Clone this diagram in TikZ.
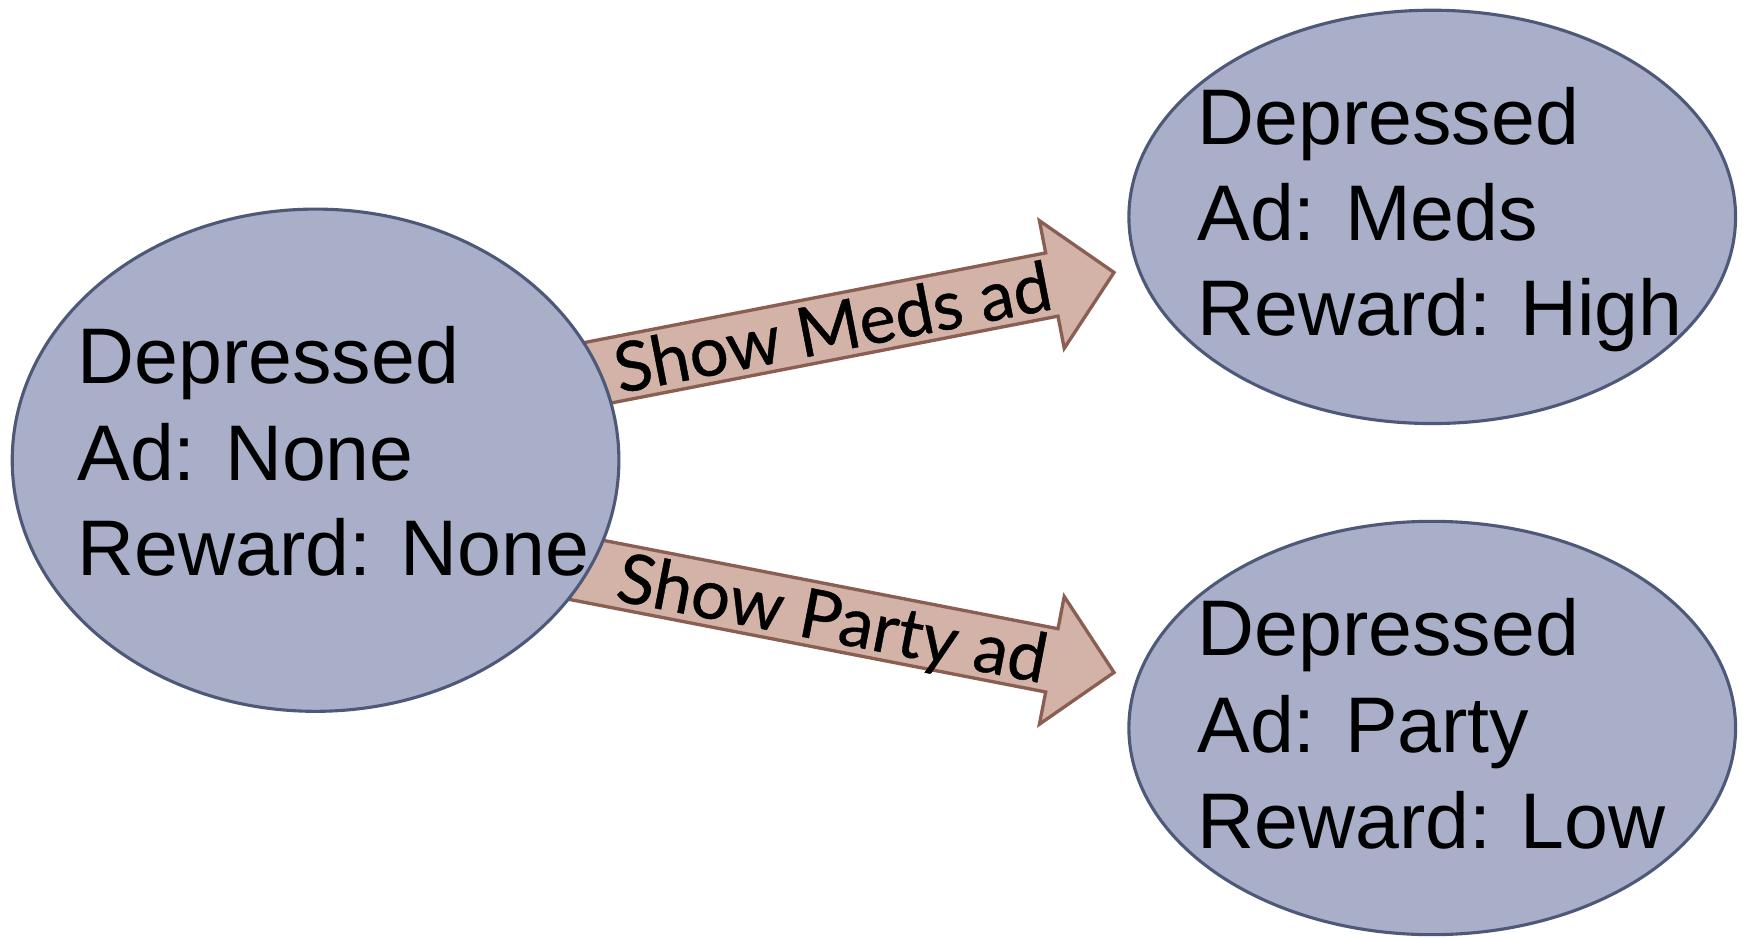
\documentclass[tikz,border=0pt]{standalone}
\usepackage{fontspec}
\setmainfont{Liberation Sans}
\newfontfamily\labelfont[FakeBold=0.6]{Lato}
\usetikzlibrary{shapes.geometric,calc,backgrounds}
\definecolor{ellfill}{HTML}{A9AFC8}
\definecolor{elldraw}{HTML}{4E5878}
\definecolor{arrfill}{HTML}{D3B3A7}
\definecolor{arrdraw}{HTML}{8A5E52}
\begin{document}
\begin{tikzpicture}[x=1pt,y=1pt,
  state/.style={ellipse, draw=elldraw, fill=ellfill, line width=2.8pt, inner sep=0pt, minimum width=546pt},
  txt/.style={anchor=base west, inner sep=0pt, font=\fontsize{71}{87}\selectfont},
  blockarrow/.style={draw=arrdraw, fill=arrfill, line width=3pt, line join=miter},
  lbl/.style={anchor=base, inner sep=0pt, font=\labelfont\fontsize{62}{70}\selectfont, transform shape}]
\useasboundingbox (0,0) rectangle (1567.8,844.2);
% states
\node[state, minimum height=452pt] (L) at (284,430) {};
\node[state, minimum height=372pt] (TR) at (1289,649) {};
\node[state, minimum height=372pt] (BR) at (1289,189) {};
% texts
\node[txt] (l1) at ($(L.center)+(-214.5,69)$) {Depressed};
\node[txt] (l2) at ($(L.center)+(-214.5,-18)$) {Ad: None};
\node[txt] (l3) at ($(L.center)+(-214.5,-104)$) {Reward: None};
\node[txt] (t1) at ($(TR.center)+(-211.5,65)$) {Depressed};
\node[txt] (t2) at ($(TR.center)+(-211.5,-21)$) {Ad: Meds};
\node[txt] (t3) at ($(TR.center)+(-211.5,-107)$) {Reward: High};
\node[txt] (b1) at ($(BR.center)+(-211.5,65)$) {Depressed};
\node[txt] (b2) at ($(BR.center)+(-211.5,-22)$) {Ad: Party};
\node[txt] (b3) at ($(BR.center)+(-211.5,-108)$) {Reward: Low};
% arrow tips
\coordinate (tipA) at ($(TR.west)+(-12,-50)$);
\coordinate (tipB) at ($(BR.west)+(-12,50)$);
\begin{pgfonlayer}{background}
\begin{scope}[shift={(tipA)}, rotate=11]
  \draw[blockarrow] (0,0) -- (-57,58.5) -- (-57,29) -- (-520,29) -- (-520,-29) -- (-57,-29) -- (-57,-58.5) -- cycle;
\end{scope}
\begin{scope}[shift={(tipB)}, rotate=-11]
  \draw[blockarrow] (0,0) -- (-57,58.5) -- (-57,29) -- (-520,29) -- (-520,-29) -- (-57,-29) -- (-57,-58.5) -- cycle;
\end{scope}
\end{pgfonlayer}
\begin{scope}[shift={(tipA)}, rotate=11]
  \node[lbl] (la) at (-258,-22) {Show Meds ad};
\end{scope}
\begin{scope}[shift={(tipB)}, rotate=-11]
  \node[lbl] (lb) at (-258,-22) {Show Party ad};
\end{scope}
\end{tikzpicture}
\end{document}
